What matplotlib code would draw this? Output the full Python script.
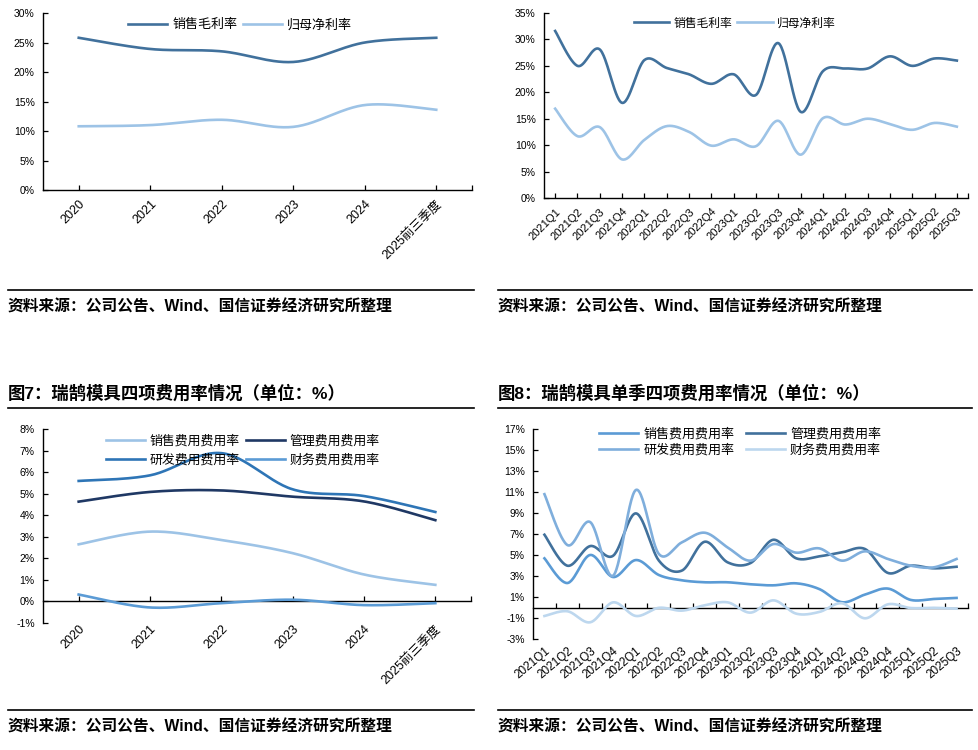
import numpy as np
import matplotlib
matplotlib.use('Agg')
import matplotlib.pyplot as plt
from matplotlib.lines import Line2D
from matplotlib.ticker import FuncFormatter, FixedLocator

plt.rcParams['font.family'] = ['Liberation Sans', 'Noto Sans CJK SC', 'DejaVu Sans']

# ---------------- data ----------------
years = ['2020', '2021', '2022', '2023', '2024', '2025前三季度']
quarters = ['2021Q1', '2021Q2', '2021Q3', '2021Q4', '2022Q1', '2022Q2', '2022Q3', '2022Q4',
            '2023Q1', '2023Q2', '2023Q3', '2023Q4', '2024Q1', '2024Q2', '2024Q3', '2024Q4',
            '2025Q1', '2025Q2', '2025Q3']

gross_annual = [25.8, 23.9, 23.5, 21.7, 25.0, 25.8]
net_annual = [10.8, 11.0, 11.9, 10.7, 14.4, 13.6]

gross_q = [31.6, 25.0, 28.1, 18.0, 26.1, 24.6, 23.4, 21.6, 23.4, 19.5, 29.3, 16.3,
           24.0, 24.5, 24.5, 26.8, 25.0, 26.4, 26.0]
net_q = [16.9, 11.7, 13.4, 7.3, 11.0, 13.6, 12.5, 9.9, 11.1, 9.8, 14.6, 8.2,
         15.1, 13.9, 15.0, 14.0, 12.9, 14.2, 13.5]

sales_annual = [2.65, 3.24, 2.85, 2.24, 1.25, 0.77]
admin_annual = [4.63, 5.08, 5.15, 4.86, 4.64, 3.77]
rd_annual = [5.59, 5.85, 6.88, 5.20, 4.89, 4.15]
fin_annual = [0.32, -0.28, -0.08, 0.08, -0.17, -0.08]

sales_q = [4.71, 2.36, 5.03, 2.93, 4.55, 3.12, 2.62, 2.43, 2.43, 2.24, 2.14, 2.33,
           1.79, 0.53, 1.26, 1.83, 0.75, 0.84, 0.94]
admin_q = [6.96, 4.01, 5.88, 4.96, 8.99, 4.49, 3.54, 6.29, 4.33, 4.26, 6.48, 4.71,
           4.90, 5.28, 5.60, 3.32, 4.01, 3.76, 3.91]
rd_q = [10.82, 5.98, 8.16, 3.06, 11.23, 5.12, 6.23, 7.15, 5.75, 4.49, 6.07, 5.25,
        5.66, 4.49, 5.38, 4.65, 4.01, 3.85, 4.65]
fin_q = [-0.78, -0.33, -1.38, 0.52, -0.78, 0.00, -0.27, 0.24, 0.52, -0.46, 0.71, -0.56,
         -0.40, 0.43, -1.00, 0.33, -0.02, 0.00, -0.08]

yticks4 = [-3, -1, 1, 3, 5, 7, 9, 11, 13, 15, 17]

titles = ['图7：瑞鹄模具四项费用率情况（单位：%）', '图8：瑞鹄模具单季四项费用率情况（单位：%）']
source = '资料来源：公司公告、Wind、国信证券经济研究所整理'


def smooth(y, n=30):
    """Excel-like smoothed line through the data points (cubic Bezier / Catmull-Rom)."""
    y = np.asarray(y, float)
    x = np.arange(len(y), dtype=float)
    P = np.column_stack([x, y])
    xs, ys = [], []
    t = np.linspace(0, 1, n)[:, None]
    for i in range(len(P) - 1):
        p0 = P[i - 1] if i > 0 else P[i]
        p1, p2 = P[i], P[i + 1]
        p3 = P[i + 2] if i + 2 < len(P) else P[i + 1]
        c1 = p1 + (p2 - p0) / 6.0
        c2 = p2 - (p3 - p1) / 6.0
        B = ((1 - t) ** 3) * p1 + 3 * ((1 - t) ** 2) * t * c1 + 3 * (1 - t) * t ** 2 * c2 + t ** 3 * p2
        xs.append(B[:, 0]); ys.append(B[:, 1])
    return np.concatenate(xs), np.concatenate(ys)


W, H = 979, 750
fig = plt.figure(figsize=(W / 100, H / 100), dpi=100)


def fx(px):
    return px / W


def fy(py):
    return 1 - py / H


pct = FuncFormatter(lambda v, _: f'{v:.0f}%')
LW = 1.9


def base_axes(rect, ylim, yticks):
    ax = fig.add_axes(rect)
    for s in ['top', 'right']:
        ax.spines[s].set_visible(False)
    for s in ['left', 'bottom']:
        ax.spines[s].set_linewidth(1.0)
        ax.spines[s].set_color('black')
    ax.set_ylim(*ylim)
    ax.yaxis.set_major_locator(FixedLocator(yticks))
    ax.yaxis.set_major_formatter(pct)
    ax.tick_params(axis='y', direction='in', length=3.5, width=0.9, labelsize=7.5,
                   pad=6, colors='black')
    return ax


def xlabels(ax, labels, size, rot, pad):
    ax.set_xticks(range(len(labels)))
    ax.set_xticklabels(labels, rotation=rot, ha='right', va='top',
                       rotation_mode='anchor', fontsize=size)
    ax.tick_params(axis='x', pad=pad)


# ---------------- panel 1 ----------------
ax1 = base_axes([fx(43), fy(190), fx(429), 177 / H], (0, 30), list(range(0, 31, 5)))
ax1.set_xlim(-0.5, len(years) - 0.5)
xlabels(ax1, years, 9, 45, 6)
ax1.tick_params(axis='x', direction='in', length=3.5, width=0.9)
ax1.set_xticks([len(years) - 0.5], minor=True)
ax1.tick_params(axis='x', which='minor', direction='in', length=3.5, width=0.9)
xs, ys = smooth(gross_annual)
ax1.plot(xs, ys, color='#41719C', lw=LW, label='销售毛利率')
xs, ys = smooth(net_annual)
ax1.plot(xs, ys, color='#9DC3E6', lw=LW, label='归母净利率')
ax1.legend(ncol=2, loc='center', bbox_to_anchor=(0.459, 0.932), frameon=False,
           fontsize=9.4, handlelength=3.0, handletextpad=0.4, columnspacing=0.4)

# ---------------- panel 2 ----------------
ax2 = base_axes([fx(544), fy(198), fx(424), 185 / H], (0, 35), list(range(0, 36, 5)))
ax2.set_xlim(-0.5, len(quarters) - 0.5)
xlabels(ax2, quarters, 8, 45, 6)
ax2.tick_params(axis='x', direction='in', length=3.5, width=0.9)
ax2.set_xticks([len(quarters) - 0.5], minor=True)
ax2.tick_params(axis='x', which='minor', direction='in', length=3.5, width=0.9)
xs, ys = smooth(gross_q)
ax2.plot(xs, ys, color='#41719C', lw=LW, label='销售毛利率')
xs, ys = smooth(net_q)
ax2.plot(xs, ys, color='#9DC3E6', lw=LW, label='归母净利率')
ax2.legend(ncol=2, loc='center', bbox_to_anchor=(0.45, 0.943), frameon=False,
           fontsize=8.5, handlelength=3.0, handletextpad=0.4, columnspacing=0.4)

# ---------------- panel 3 ----------------
ax3 = base_axes([fx(43), fy(623), fx(428), 194 / H], (-1, 8), list(range(-1, 9)))
ax3.set_xlim(-0.5, len(years) - 0.5)
ax3.spines['bottom'].set_visible(False)
xlabels(ax3, years, 9, 45, 0)
ax3.tick_params(axis='x', length=0)
sec3 = ax3.secondary_xaxis(1 / 9)
sec3.set_xticks(list(range(len(years))) + [len(years) - 0.5])
sec3.set_xticklabels([])
sec3.tick_params(axis='x', direction='in', length=3.5, width=0.9)
sec3.spines['bottom'].set_linewidth(1.0)
colors3 = {'sales': '#9DC3E6', 'admin': '#1F3864', 'rd': '#2E75B6', 'fin': '#5B9BD5'}
h = {}
for key, data, lab in [('sales', sales_annual, '销售费用费用率'), ('admin', admin_annual, '管理费用费用率'),
                       ('rd', rd_annual, '研发费用费用率'), ('fin', fin_annual, '财务费用费用率')]:
    xs, ys = smooth(data)
    h[key], = ax3.plot(xs, ys, color=colors3[key], lw=LW, label=lab)
ax3.legend([h['sales'], h['rd'], h['admin'], h['fin']],
           [h['sales'].get_label(), h['rd'].get_label(), h['admin'].get_label(), h['fin'].get_label()],
           ncol=2, loc='center', bbox_to_anchor=(0.467, 0.887), frameon=False,
           fontsize=9.3, handlelength=3.0, handletextpad=0.35, columnspacing=0.5, labelspacing=0.5)

# ---------------- panel 4 ----------------
ax4 = base_axes([fx(533), fy(639.3), fx(435), 210 / H], (-3, 17), yticks4)
ax4.set_xlim(-0.5, len(quarters) - 0.5)
ax4.spines['bottom'].set_visible(False)
xlabels(ax4, quarters, 8.5, 40, 4)
ax4.tick_params(axis='x', length=0)
sec4 = ax4.secondary_xaxis(3 / 20)
sec4.set_xticks([k + 0.5 for k in range(len(quarters))])
sec4.set_xticklabels([])
sec4.tick_params(axis='x', direction='in', length=3.5, width=0.9)
sec4.spines['bottom'].set_linewidth(1.0)
colors4 = {'sales': '#5B9BD5', 'admin': '#41719C', 'rd': '#7FAEDC', 'fin': '#BDD7EE'}
h = {}
for key, data, lab in [('sales', sales_q, '销售费用费用率'), ('admin', admin_q, '管理费用费用率'),
                       ('rd', rd_q, '研发费用费用率'), ('fin', fin_q, '财务费用费用率')]:
    xs, ys = smooth(data)
    h[key], = ax4.plot(xs, ys, color=colors4[key], lw=LW, label=lab)
ax4.legend([h['sales'], h['rd'], h['admin'], h['fin']],
           [h['sales'].get_label(), h['rd'].get_label(), h['admin'].get_label(), h['fin'].get_label()],
           ncol=2, loc='center', bbox_to_anchor=(0.476, 0.94), frameon=False,
           fontsize=9.4, handlelength=3.0, handletextpad=0.4, columnspacing=0.85, labelspacing=0.25)

# ---------------- titles / sources ----------------
for x0, x1 in [(8, 474), (498, 972)]:
    for ly in [290, 710]:
        fig.add_artist(Line2D([fx(x0), fx(x1)], [fy(ly), fy(ly)], color='black', lw=1.2))
    fig.add_artist(Line2D([fx(x0), fx(x1)], [fy(408), fy(408)], color='black', lw=1.2))
    fig.text(fx(x0), fy(307), source, fontsize=11.3, fontweight='bold', va='center', ha='left')
    fig.text(fx(x0), fy(727), source, fontsize=11.3, fontweight='bold', va='center', ha='left')

fig.text(fx(8), fy(393), titles[0], fontsize=12.5, fontweight='bold', va='center', ha='left')
fig.text(fx(498), fy(393), titles[1], fontsize=12.5, fontweight='bold', va='center', ha='left')

fig.savefig('out.png', dpi=100, facecolor='white')
